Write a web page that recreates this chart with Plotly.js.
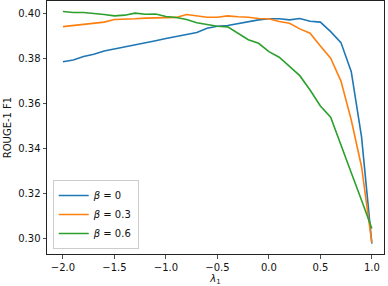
<!DOCTYPE html>
<html><head><meta charset="utf-8">
<script src="https://cdn.plot.ly/plotly-3.0.1.min.js"></script>
<style>html,body{margin:0;padding:0;background:#fff}#c{width:388px;height:286px}</style>
</head><body><div id="c"></div>
<script>
const lambdas = [-2.0,-1.9,-1.8,-1.7,-1.6,-1.5,-1.4,-1.3,-1.2,-1.1,-1.0,-0.9,-0.8,-0.7,-0.6,-0.5,-0.4,-0.3,-0.2,-0.1,0.0,0.1,0.2,0.3,0.4,0.5,0.6,0.7,0.8,0.9,1.0];
const beta0 = [0.3784,0.3792,0.3807,0.3817,0.3832,0.3841,0.3847,0.3856,0.3866,0.3877,0.3887,0.3896,0.3906,0.3914,0.3933,0.3942,0.3945,0.3954,0.3963,0.3970,0.3975,0.3975,0.3970,0.3976,0.3964,0.3960,0.3918,0.3869,0.3740,0.3450,0.2975];
const beta03 = [0.3940,0.3945,0.3948,0.3952,0.3960,0.3972,0.3972,0.3975,0.3978,0.3979,0.3980,0.3981,0.3994,0.3989,0.3982,0.3982,0.3988,0.3984,0.3982,0.3976,0.3975,0.3963,0.3955,0.3930,0.3911,0.3854,0.3800,0.3698,0.3525,0.3317,0.2978];
const beta06 = [0.4007,0.4003,0.4003,0.4000,0.3994,0.3988,0.3991,0.4000,0.3995,0.3996,0.3985,0.3981,0.3972,0.3957,0.3948,0.3942,0.3939,0.3912,0.3882,0.3866,0.3829,0.3804,0.3762,0.3722,0.3658,0.3587,0.3537,0.3410,0.3290,0.3168,0.3042];
const names = ['<i>β</i> = 0','<i>β</i> = 0.3','<i>β</i> = 0.6'];
const colors = ['#1f77b4','#ff7f0e','#2ca02c'];
const series = [beta0, beta03, beta06];
const traces = series.map((s,i)=>({x:lambdas,y:s,type:'scatter',mode:'lines',name:names[i],line:{color:colors[i],width:1.6}}));
const ax = {showgrid:false,zeroline:false,showline:true,linecolor:'#222',linewidth:1,mirror:true,ticks:'outside',ticklen:3.5,tickwidth:0.8,tickcolor:'#222',tickfont:{size:10,color:'#111'}};
const layout = {
  width:388,height:286,margin:{l:47,r:4,t:1,b:32},
  paper_bgcolor:'#fff',plot_bgcolor:'#fff',
  font:{family:'DejaVu Sans',size:10,color:'#111'},
  xaxis:Object.assign({},ax,{range:[-2.155,1.118],tickvals:[-2,-1.5,-1,-0.5,0,0.5,1],tickformat:'.1f',title:{text:'<i>λ</i><sub>1</sub>',font:{size:10},standoff:4}}),
  yaxis:Object.assign({},ax,{range:[0.2929,0.4054],tickvals:[0.30,0.32,0.34,0.36,0.38,0.40],tickformat:'.2f',title:{text:'ROUGE-1 F1',font:{size:10},standoff:4}}),
  showlegend:true,
  legend:{x:0.017,y:0.02,xanchor:'left',yanchor:'bottom',bgcolor:'rgba(255,255,255,0.8)',bordercolor:'#ccc',borderwidth:1,font:{size:10},tracegroupgap:0,itemwidth:30}
};
Plotly.newPlot('c',traces,layout,{displayModeBar:false,staticPlot:true});
</script></body></html>
